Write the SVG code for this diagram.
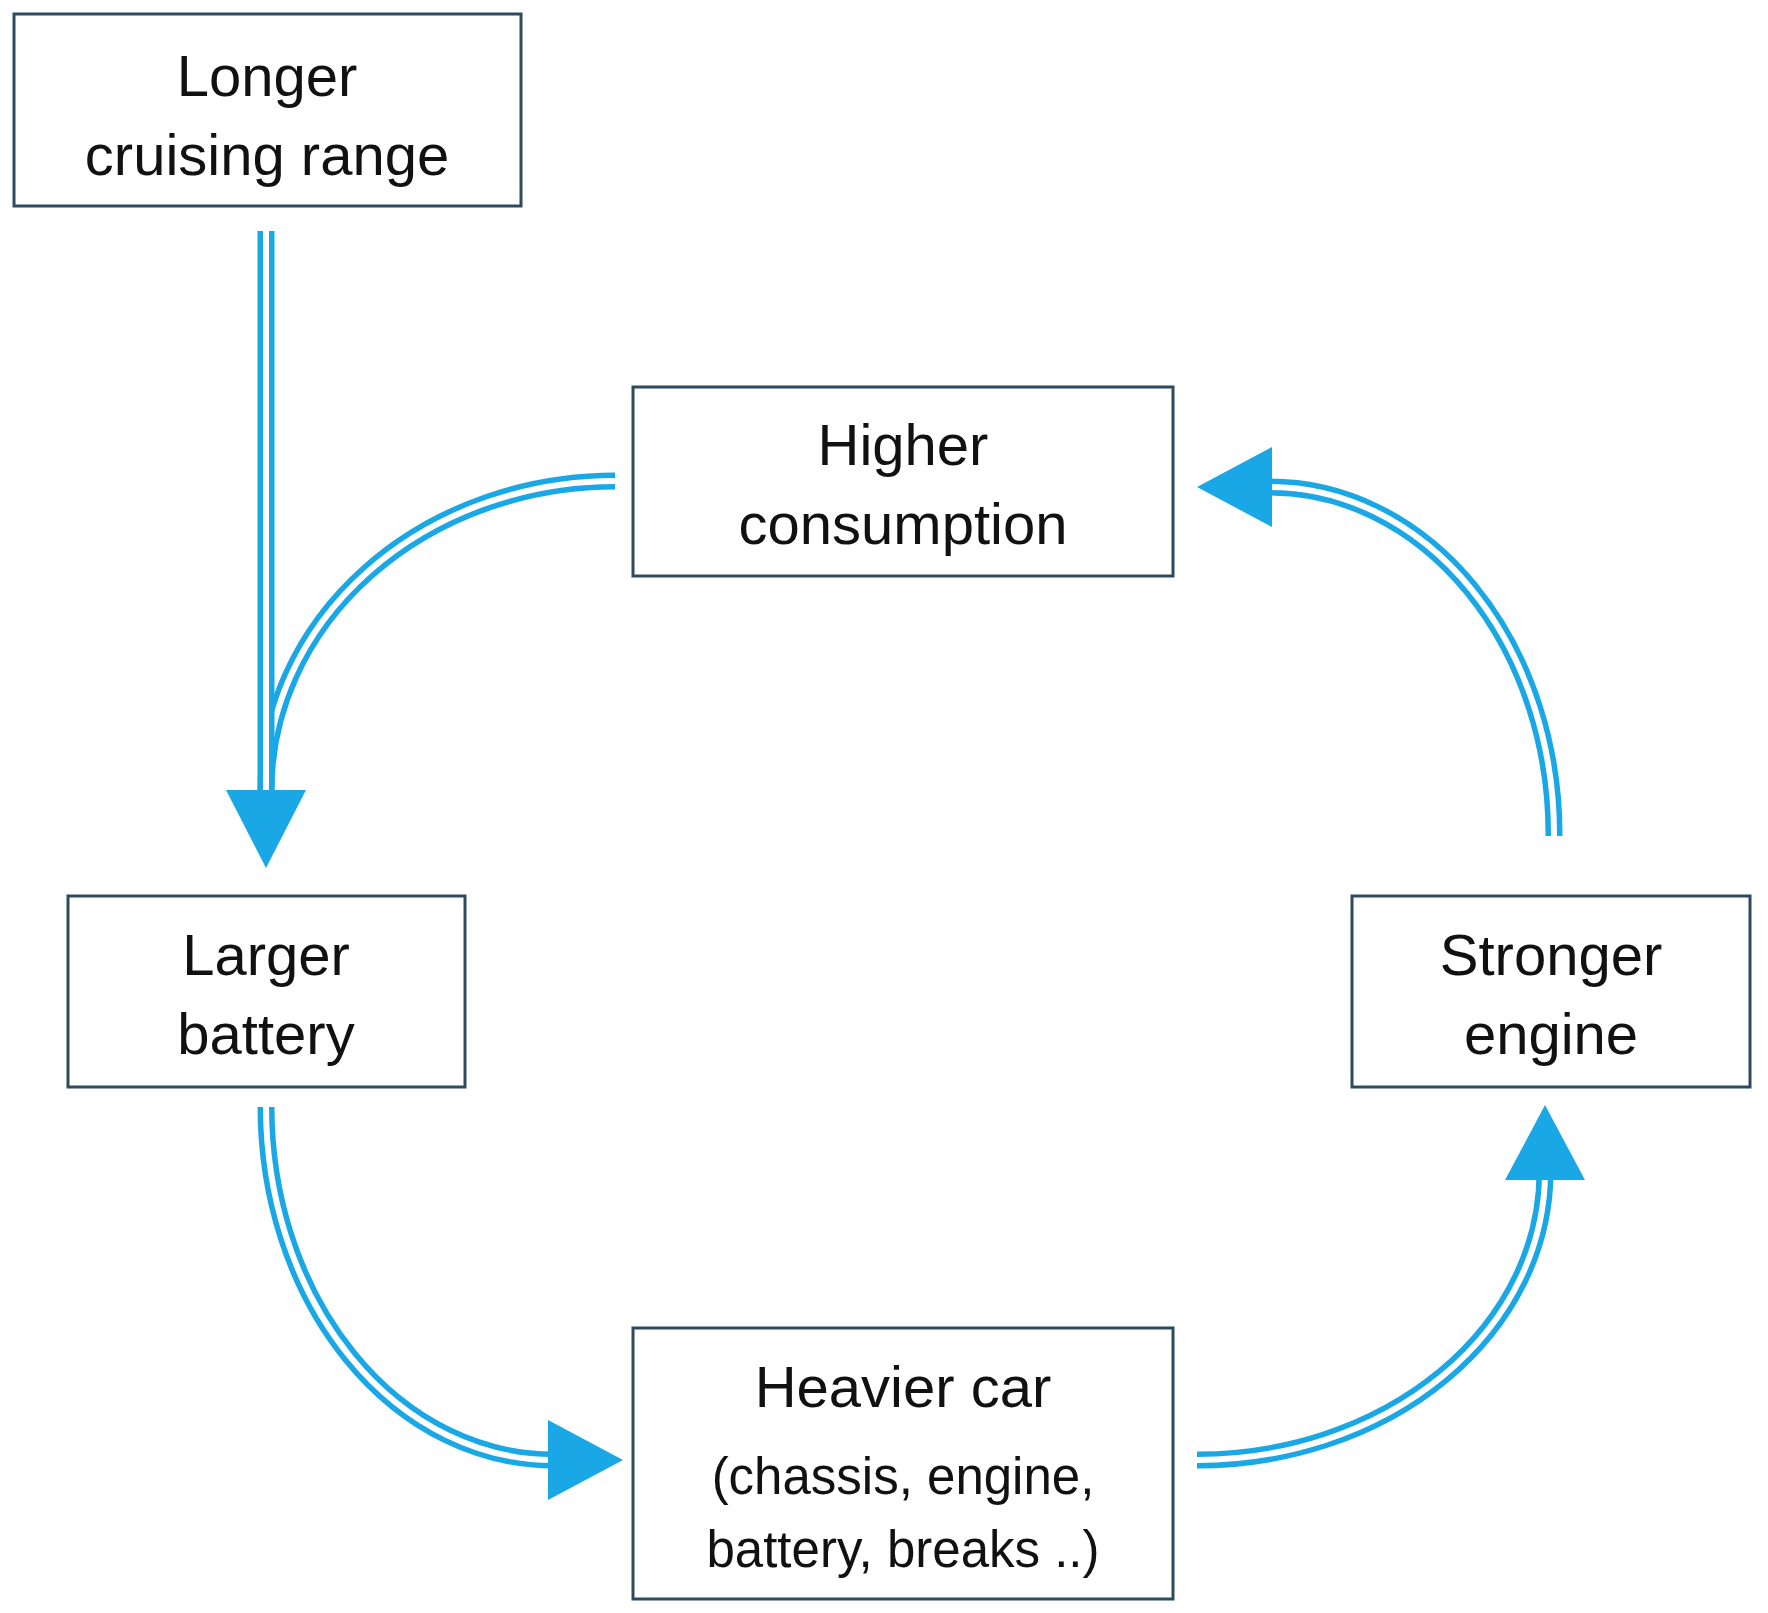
<svg xmlns="http://www.w3.org/2000/svg" width="1768" height="1613" viewBox="0 0 1768 1613">
<style>
.box{fill:#fff;stroke:#2e4a5e;stroke-width:3}
text{font-family:"Liberation Sans",Arial,sans-serif;font-size:58px;fill:#111;text-anchor:middle}
.sm{font-size:51px}
.o{fill:none;stroke:#1aa7e6;stroke-width:17}
.i{fill:none;stroke:#fff;stroke-width:6}
.h{fill:#1aa7e6}
</style>
<rect width="1768" height="1613" fill="#fff"/>
<g id="connectors">
<path class="o" d="M615 481 A349 309 0 0 0 266 790"/>
<path class="i" d="M615 481 A349 309 0 0 0 266 790"/>
<path class="o" d="M266 231 V795"/>
<path class="i" d="M266 231 V795"/>
<polygon class="h" points="226,790 306,790 266,868"/>
<path class="o" d="M1554 836 A284 347 0 0 0 1270 487"/>
<path class="i" d="M1554 836 A284 347 0 0 0 1270 487"/>
<polygon class="h" points="1272,447 1272,527 1197,487"/>
<path class="o" d="M266 1107 A287 353 0 0 0 553 1460"/>
<path class="i" d="M266 1107 A287 353 0 0 0 553 1460"/>
<polygon class="h" points="548,1420 548,1500 623,1460"/>
<path class="o" d="M1197 1460 A348 288 0 0 0 1545 1172"/>
<path class="i" d="M1197 1460 A348 288 0 0 0 1545 1172"/>
<polygon class="h" points="1505,1180 1585,1180 1545,1105"/>
</g>
<g id="longer"><rect class="box" x="14" y="14" width="507" height="192"/><text x="267" y="96">Longer</text><text x="267" y="175">cruising range</text></g>
<g id="higher"><rect class="box" x="633" y="387" width="540" height="189"/><text x="903" y="465">Higher</text><text x="903" y="544">consumption</text></g>
<g id="larger"><rect class="box" x="68" y="896" width="397" height="191"/><text x="266" y="975">Larger</text><text x="266" y="1054">battery</text></g>
<g id="stronger"><rect class="box" x="1352" y="896" width="398" height="191"/><text x="1551" y="975">Stronger</text><text x="1551" y="1054">engine</text></g>
<g id="heavier"><rect class="box" x="633" y="1328" width="540" height="271"/><text x="903" y="1407">Heavier car</text><text class="sm" x="903" y="1494">(chassis, engine,</text><text class="sm" x="903" y="1567">battery, breaks ..)</text></g>
</svg>
